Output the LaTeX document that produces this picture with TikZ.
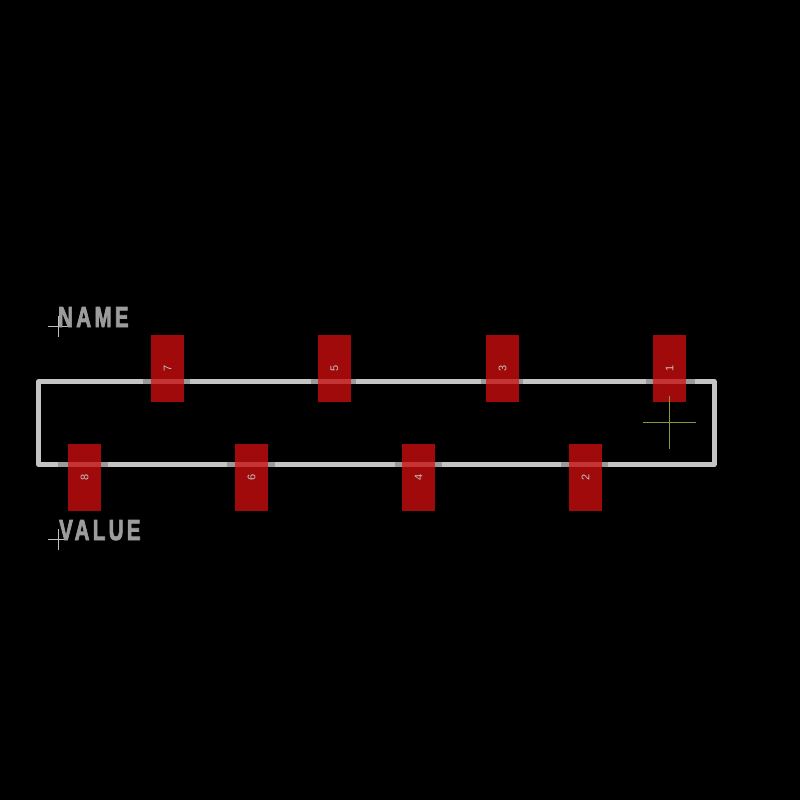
\documentclass[tikz,border=0pt]{standalone}
\usepackage{fontspec}
\setmainfont{Liberation Sans}
\newfontfamily\silkfont[LetterSpace=16,FakeBold=3]{Liberation Sans Bold}
\definecolor{padred}{HTML}{A00A0A}
\definecolor{overred}{HTML}{C43434}
\definecolor{silk}{HTML}{C4C4C4}
\definecolor{silkdark}{HTML}{9A9A9A}
\definecolor{origin}{HTML}{8A9A3A}
\definecolor{tname}{HTML}{9C9C9C}
\tikzset{
  silkline/.style={draw=silk,line width=5pt,line cap=round,line join=round},
  darkseg/.style={draw=silkdark,line width=5pt},
  overseg/.style={draw=overred,line width=5pt},
  padbox/.style={fill=padred,draw=none,minimum width=33pt,minimum height=67pt,inner sep=0pt,outer sep=0pt},
  padnum/.style={text=silk,font=\fontsize{11}{11}\selectfont,rotate=90,inner sep=0pt},
  cross/.style={draw=white!75!black,line width=0.7pt},
  crossg/.style={draw=origin,line width=0.8pt},
  bigtext/.style={text=tname,font=\silkfont\fontsize{29}{29}\selectfont,inner sep=0pt,anchor=base west,xscale=0.71}
}
\begin{document}
\begin{tikzpicture}[x=1pt,y=-1pt]
\useasboundingbox (0,0) rectangle (800,800);
\fill[black] (0,0) rectangle (800,800);
% outline
\coordinate (tl) at (38.5,381.5);
\coordinate (tr) at (714,381.5);
\coordinate (br) at (714,464.5);
\coordinate (bl) at (38.5,464.5);
\draw[silkline] (tl) -- (tr) -- (br) -- (bl) -- cycle;
% darker ends near pads
\foreach \a/\b in {143/190,311/356,481/523,646/695}{
  \draw[darkseg] (\a,381.5) -- (\b,381.5);
}
\foreach \a/\b in {58/108,227/275,395/442,561/608}{
  \draw[darkseg] (\a,464.5) -- (\b,464.5);
}
% pads
\foreach \n/\cx/\cy in {7/167.5/368.5,5/334.5/368.5,3/502.5/368.5,1/669.5/368.5,8/84.5/477.5,6/251.5/477.5,4/418.5/477.5,2/585.5/477.5}{
  \node[padbox] (pad\n) at (\cx,\cy) {};
}
\foreach \cx in {167.5,334.5,502.5,669.5}{
  \draw[overseg] (\cx-16.5,381.5) -- (\cx+16.5,381.5);
}
\foreach \cx in {84.5,251.5,418.5,585.5}{
  \draw[overseg] (\cx-16.5,464.5) -- (\cx+16.5,464.5);
}
\foreach \n in {1,...,8}{
  \node[padnum] at (pad\n.center) {\n};
}
% origin marks
\draw[crossg] (643,422) -- (696,422);
\draw[crossg] (669.5,396) -- (669.5,449);
\draw[cross] (48,326) -- (68,326);
\draw[cross] (58,316) -- (58,337);
\draw[cross] (48,539) -- (68,539);
\draw[cross] (58,529) -- (58,550);
% texts
\node[bigtext] (nm) at (58,327) {NAME};
\node[bigtext] (vl) at (59,540) {VALUE};
\end{tikzpicture}
\end{document}
